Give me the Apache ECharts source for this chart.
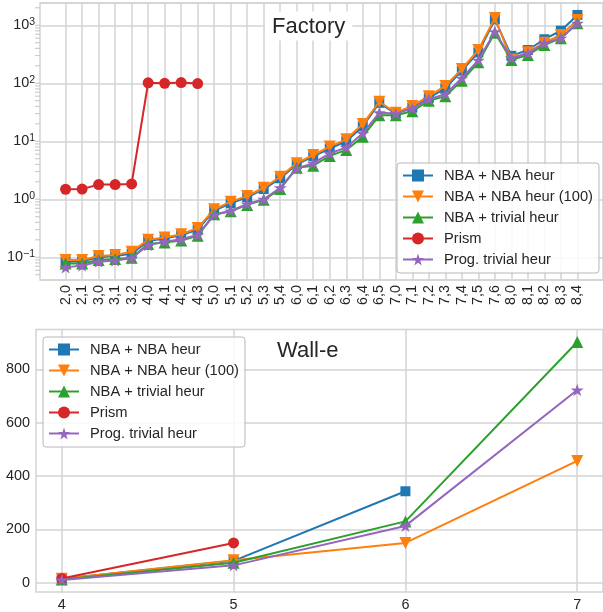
<!DOCTYPE html>
<html>
<head>
<meta charset="utf-8">
<script src="https://cdn.jsdelivr.net/npm/echarts@6/dist/echarts.min.js"></script>
<style>
  html, body { margin: 0; padding: 0; background: #ffffff; }
  #chart { width: 603px; height: 612px; }
</style>
</head>
<body>
<div id="chart"></div>
<script>
// ---- Factory: runtime per instance (log scale) ----
const factoryCategories = ['2,0','2,1','3,0','3,1','3,2','4,0','4,1','4,2','4,3','5,0','5,1','5,2','5,3','5,4',
  '6,0','6,1','6,2','6,3','6,4','6,5','7,0','7,1','7,2','7,3','7,4','7,5','7,6','8,0','8,1','8,2','8,3','8,4'];

const factoryNbaHeur = [0.085,0.085,0.10,0.105,0.115,0.19,0.21,0.24,0.30,0.64,0.85,1.08,1.5,2.3,
  4.0,5.5,7.5,10,18,46,30,38,56,82,165,340,1260,297,375,574,807,1506];
const factoryNbaHeur100 = [0.090,0.090,0.105,0.11,0.125,0.20,0.22,0.25,0.32,0.67,0.91,1.14,1.58,2.45,
  4.2,5.8,8.1,10.8,19.8,48,31,40.6,60,90,176,375,1330,258,342,500,680,1235];
const factoryNbaTrivial = [0.078,0.078,0.09,0.093,0.098,0.17,0.18,0.195,0.235,0.55,0.62,0.80,0.98,1.5,
  3.5,3.8,5.6,7.1,12,28,28,33,50,60,111,230,740,253,307,458,597,1082];
const factoryPrism = [1.49,1.50,1.79,1.79,1.84,102,100,103,99];
const factoryProgTrivial = [0.067,0.072,0.084,0.088,0.096,0.163,0.186,0.204,0.243,0.54,0.63,0.83,1.0,1.58,
  3.4,4.2,6.2,7.8,13.7,31,30,37,53,65,122,250,775,273,329,490,600,1080];

// ---- Wall-e: runtime per instance size (linear scale) ----
const walleSizes = [4, 5, 6, 7];
const walleNbaHeur = [15, 82, 343];
const walleNbaHeur100 = [15, 84, 149, 457];
const walleNbaTrivial = [12, 75, 230, 903];
const wallePrism = [16, 149];
const walleProgTrivial = [10, 65, 213, 723];

const seriesNames = ['NBA + NBA heur', 'NBA + NBA heur (100)', 'NBA + trivial heur', 'Prism', 'Prog. trivial heur'];
const seriesColors = ['#1f77b4', '#ff7f0e', '#2ca02c', '#d62728', '#9467bd'];

const yTickValues = [0, 200, 400, 600, 800];

const STAR = 'path://M0,-10L2.245,-3.09L9.511,-3.09L3.633,1.18L5.878,8.09L0,3.82L-5.878,8.09L-3.633,1.18L-9.511,-3.09L-2.245,-3.09Z';
const markers = [
  { symbol: 'rect', size: 10, rotate: 0 },
  { symbol: 'triangle', size: 12, rotate: 180 },
  { symbol: 'triangle', size: 12, rotate: 0 },
  { symbol: 'circle', size: 11, rotate: 0 },
  { symbol: STAR, size: 13, rotate: 0 }
];

const TEXT = '#262626';
const GRID = '#d3d3d3';
const FONT = '"Liberation Sans", Arial, sans-serif';

function lineSeries(i, data, xAxisIndex, yAxisIndex) {
  const m = markers[i];
  return {
    name: seriesNames[i],
    type: 'line',
    xAxisIndex, yAxisIndex,
    data,
    color: seriesColors[i],
    symbol: m.symbol,
    symbolSize: m.size,
    symbolRotate: m.rotate,
    symbolKeepAspect: true,
    showAllSymbol: true,
    lineStyle: { width: 2, color: seriesColors[i] },
    itemStyle: { color: seriesColors[i] },
    animation: false,
    z: 3 + i
  };
}

const indexed = arr => arr.map((v, i) => [i, v]);
const paired = arr => arr.map((v, i) => [walleSizes[i], v]);

const factoryIdx = factoryCategories.map((_, i) => i);

// minor ticks of the log axis: 1..9 per decade
const logTicks = [];
for (let e = -2; e <= 3; e++) for (let k = 1; k <= 9; k++) logTicks.push(k * Math.pow(10, e));

const legendCommon = {
  orient: 'vertical',
  itemWidth: 30,
  itemHeight: 15,
  itemGap: 6,
  padding: [5, 6, 6, 5],
  backgroundColor: 'rgba(255,255,255,0.85)',
  borderColor: '#b8b8b8',
  borderWidth: 1,
  borderRadius: 3,
  textStyle: { fontFamily: FONT, fontSize: 14.7, color: TEXT, lineHeight: 15, padding: [0, 0, 0, 6] },
  data: seriesNames
};

const chart = echarts.init(document.getElementById('chart'), null, { renderer: 'canvas' });

chart.setOption({
  backgroundColor: '#ffffff',
  animation: false,
  textStyle: { fontFamily: FONT },
  title: [
    {
      text: 'Factory', left: 265, top: 11.5,
      backgroundColor: '#ffffff', padding: [4, 7, 3, 7],
      textStyle: { fontFamily: FONT, fontSize: 22, fontWeight: 'normal', color: TEXT }
    },
    {
      text: 'Wall-e', left: 270, top: 336,
      padding: [4, 7, 3, 7],
      textStyle: { fontFamily: FONT, fontSize: 22, fontWeight: 'normal', color: TEXT }
    }
  ],
  legend: [
    Object.assign({}, legendCommon, { left: 397, top: 163 }),
    Object.assign({}, legendCommon, { left: 43, top: 337 })
  ],
  grid: [
    { left: 40, top: 3, right: -3, height: 277, show: true, borderColor: GRID, borderWidth: 1.5, containLabel: false },
    { left: 36, top: 329.5, right: -3, height: 262.5, show: true, borderColor: GRID, borderWidth: 1.5, containLabel: false }
  ],
  xAxis: [
    {
      type: 'value', gridIndex: 0, min: -1.55, max: 32.55,
      axisLine: { show: false },
      axisTick: { show: false, customValues: factoryIdx },
      axisLabel: {
        customValues: factoryIdx, rotate: 90, margin: 5,
        fontFamily: FONT, fontSize: 14.4, color: TEXT,
        formatter: v => factoryCategories[Math.round(v)]
      },
      splitLine: { show: true, lineStyle: { color: GRID, width: 1.5 } }
    },
    {
      type: 'value', gridIndex: 1, min: 3.85, max: 7.15,
      axisLine: { show: false },
      axisTick: { show: false, customValues: walleSizes },
      axisLabel: { customValues: walleSizes, margin: 6, fontFamily: FONT, fontSize: 14.4, color: TEXT },
      splitLine: { show: true, lineStyle: { color: GRID, width: 1.5 } }
    }
  ],
  yAxis: [
    {
      type: 'log', logBase: 10, gridIndex: 0, min: 0.0406, max: 2420,
      axisLine: { show: false },
      axisTick: { show: false },
      axisLabel: {
        margin: 5, fontFamily: FONT, fontSize: 14.4, color: TEXT,
        formatter: v => {
          const e = Math.log10(v);
          if (Math.abs(e - Math.round(e)) > 1e-6) return '';
          return '10{sup|' + String(Math.round(e)).replace('-', '−') + '}';
        },
        rich: {
          sup: { fontFamily: FONT, fontSize: 10.5, color: TEXT, verticalAlign: 'top', padding: [0, 0, 7, 0] }
        }
      },
      splitLine: { show: true, lineStyle: { color: GRID, width: 1.5 } }
    },
    {
      type: 'value', gridIndex: 1, min: -35, max: 950,
      axisLine: { show: false },
      axisTick: { show: false, customValues: yTickValues },
      axisLabel: { customValues: yTickValues, margin: 6, fontFamily: FONT, fontSize: 14.4, color: TEXT },
      splitLine: { show: true, lineStyle: { color: GRID, width: 1.5 } }
    }
  ],
  series: [
    // small tick marks on the log axis
    {
      type: 'custom', xAxisIndex: 0, yAxisIndex: 0, silent: true, clip: false,
      data: logTicks.filter(v => v >= 0.0406 && v <= 2420).map(v => [-1.55, v]),
      renderItem: (params, api) => {
        const p = api.coord([api.value(0), api.value(1)]);
        return {
          type: 'line',
          shape: { x1: p[0] - 5, y1: p[1], x2: p[0], y2: p[1] },
          style: { stroke: '#c4c4c4', lineWidth: 1 }
        };
      },
      z: 1
    },
    lineSeries(0, indexed(factoryNbaHeur), 0, 0),
    lineSeries(1, indexed(factoryNbaHeur100), 0, 0),
    lineSeries(2, indexed(factoryNbaTrivial), 0, 0),
    lineSeries(3, indexed(factoryPrism), 0, 0),
    lineSeries(4, indexed(factoryProgTrivial), 0, 0),
    lineSeries(0, paired(walleNbaHeur), 1, 1),
    lineSeries(1, paired(walleNbaHeur100), 1, 1),
    lineSeries(2, paired(walleNbaTrivial), 1, 1),
    lineSeries(3, paired(wallePrism), 1, 1),
    lineSeries(4, paired(walleProgTrivial), 1, 1)
  ]
});
</script>
</body>
</html>
